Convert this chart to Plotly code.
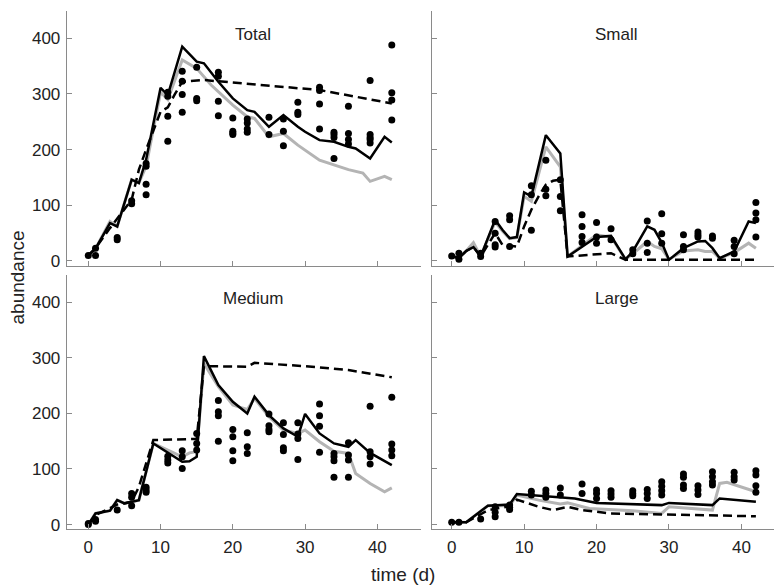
import plotly.graph_objects as go

# ---------------- data ----------------
obs_days = [0, 1, 4, 6, 8, 11, 13, 15, 18, 20, 22, 25, 27, 29, 32, 34, 36, 39, 42]

total_obs = [[10], [23, 10], [42, 38], [108, 103], [175, 170, 138, 119],
             [303, 296, 260, 215], [341, 323, 299, 267], [348, 292, 288],
             [339, 332, 287, 261], [257, 233, 230, 227], [255, 248, 237, 231],
             [258, 227], [255, 233, 207], [285, 267, 263], [312, 306, 282, 237],
             [231, 227, 222, 184], [278, 229, 218, 210], [324, 227, 222, 218, 212],
             [388, 302, 289, 253]]
small_obs = [[9], [14, 3], [14, 8], [71, 50, 29, 25], [81, 74, 26], [135, 119, 55],
             [181, 129, 117], [146, 116, 90], [83, 62, 44, 33], [69, 43, 32], [58, 38],
             [20, 13], [72, 32, 15], [85, 49, 32], [47, 26, 20], [52, 47, 43], [45, 41],
             [37, 26, 13], [105, 86, 74, 43]]
medium_obs = [[2, 0], [9, 6], [26], [56, 49, 34], [67, 62, 58], [123, 116, 111],
              [133, 122, 101], [164, 146, 134], [223, 203, 196, 150], [171, 158, 133, 115],
              [165, 140, 128], [199, 178, 171, 167], [183, 162, 138, 133], [183, 163, 155, 117],
              [217, 196, 177, 130], [128, 122, 115, 85], [147, 125, 116, 85],
              [213, 131, 122, 109], [229, 145, 134, 124]]
large_obs = [[4], [4], [10], [32, 22, 14], [35, 31, 27], [60, 53], [62, 56, 49], [66, 53],
             [73, 56], [62, 56, 47], [61, 55, 49], [61, 56, 52], [63, 56, 47],
             [77, 69, 61, 53], [91, 85, 71, 65], [70, 62, 54], [95, 86, 77, 71],
             [94, 86, 80], [97, 89, 70, 58]]

# model lines
total_black_x = [0, 1, 3, 4, 6, 7, 8, 10, 11, 13, 15, 16, 18, 20, 22, 23, 25, 27, 29, 30, 32, 34, 36, 37, 39, 41, 42]
total_black_y = [10, 22, 68, 62, 146, 140, 182, 311, 298, 385, 358, 355, 322, 292, 271, 268, 241, 262, 241, 232, 217, 214, 205, 202, 184, 223, 213]
total_gray_x = [0, 1, 3, 4, 6, 7, 8, 10, 11, 13, 15, 17, 20, 22, 23, 25, 27, 29, 32, 34, 36, 38, 39, 41, 42]
total_gray_y = [10, 22, 71, 62, 146, 140, 170, 303, 290, 361, 346, 316, 280, 259, 256, 223, 229, 208, 181, 172, 164, 158, 143, 152, 146]
total_dash_x = [0, 1, 3, 6, 7, 8, 10, 11, 12, 13, 16, 32, 42]
total_dash_y = [10, 23, 59, 110, 164, 200, 268, 276, 300, 322, 325, 307, 283]

small_black_x = [0, 1, 2, 3, 4, 6, 7, 8, 9, 10, 11, 13, 15, 16, 20, 22, 24, 25, 27, 28, 29, 30, 32, 34, 35, 36, 37, 39, 41, 42]
small_black_y = [9, 5, 18, 25, 8, 74, 56, 41, 43, 123, 116, 226, 193, 8, 43, 45, 3, 17, 62, 56, 33, 2, 23, 35, 36, 23, 5, 17, 71, 68]
small_gray_x = [0, 1, 2, 3, 4, 6, 7, 8, 9, 10, 11, 13, 15, 16, 20, 22, 24, 25, 27, 28, 29, 30, 32, 34, 35, 36, 37, 39, 41, 42]
small_gray_y = [9, 5, 18, 33, 8, 70, 54, 40, 42, 116, 107, 205, 169, 8, 47, 43, 3, 13, 35, 26, 22, 3, 18, 20, 17, 17, 5, 15, 32, 23]
small_dash_x = [0, 1, 2, 3, 4, 6, 7, 9, 10, 11, 12, 13, 14, 15, 16, 22, 24, 42]
small_dash_y = [9, 5, 18, 25, 8, 50, 29, 26, 62, 92, 116, 137, 144, 146, 8, 14, 2, 2]

medium_black_x = [0, 1, 3, 4, 5, 7, 9, 10, 13, 14, 15, 16, 18, 20, 22, 23, 25, 27, 29, 30, 32, 34, 36, 37, 39, 42]
medium_black_y = [0, 20, 25, 44, 38, 44, 146, 138, 113, 114, 122, 303, 251, 221, 200, 230, 197, 173, 158, 199, 164, 146, 140, 152, 129, 107]
medium_gray_x = [0, 1, 3, 4, 5, 7, 9, 10, 13, 14, 15, 16, 18, 20, 22, 23, 25, 27, 29, 30, 32, 34, 36, 37, 39, 41, 42]
medium_gray_y = [0, 20, 25, 44, 38, 44, 146, 140, 122, 129, 131, 290, 248, 215, 207, 227, 194, 170, 164, 170, 149, 132, 128, 92, 74, 59, 66]
medium_dash_x = [0, 1, 4, 6, 7, 9, 15, 16, 22, 23, 30, 36, 42]
medium_dash_y = [0, 17, 36, 41, 68, 152, 154, 285, 284, 291, 285, 278, 265]

large_black_x = [0, 2, 5, 8, 9, 15, 17, 20, 25, 29, 30, 36, 37, 42]
large_black_y = [4, 4, 34, 36, 55, 50, 47, 39, 37, 35, 39, 35, 47, 41]
large_gray_x = [0, 2, 5, 8, 9, 12, 15, 16, 19, 25, 29, 30, 36, 37, 38, 42]
large_gray_y = [4, 4, 34, 34, 53, 44, 37, 39, 29, 25, 20, 32, 26, 74, 76, 59]
large_dash_x = [0, 2, 5, 8, 9, 12, 14, 16, 18, 22, 42]
large_dash_y = [4, 4, 26, 33, 45, 32, 26, 32, 26, 20, 15]

panel_titles = ["Total", "Small", "Medium", "Large"]
x_ticks = [0, 10, 20, 30, 40]
y_ticks = [0, 100, 200, 300, 400]

panels = [
    (total_obs, total_black_x, total_black_y, total_gray_x, total_gray_y, total_dash_x, total_dash_y),
    (small_obs, small_black_x, small_black_y, small_gray_x, small_gray_y, small_dash_x, small_dash_y),
    (medium_obs, medium_black_x, medium_black_y, medium_gray_x, medium_gray_y, medium_dash_x, medium_dash_y),
    (large_obs, large_black_x, large_black_y, large_gray_x, large_gray_y, large_dash_x, large_dash_y),
]

# ---------------- layout ----------------
W, H = 774, 587
x_domains = [[66.7 / W, 420.7 / W], [431.7 / W, 1.0]]
y_domains = [[1 - 265.7 / H, 1 - 11 / H], [1 - 529.3 / H, 1 - 275 / H]]
x_ranges = [[-2.99, 46.0], [-2.76, 44.5]]
y_range = [-8.5, 449]

FONT = "Liberation Sans, Arial, sans-serif"
AX_COLOR = "#8a8a8a"

fig = go.Figure()
layout = dict(
    width=W, height=H,
    template="none",
    margin=dict(l=0, r=0, t=0, b=0, pad=0),
    paper_bgcolor="white", plot_bgcolor="white",
    showlegend=False,
    hovermode=False,
    font=dict(family=FONT, size=16, color="#222"),
)

for i, (obs, bx, by, gx, gy, dx, dy) in enumerate(panels):
    row, col = divmod(i, 2)
    n = i + 1
    xa = "x" if n == 1 else f"x{n}"
    ya = "y" if n == 1 else f"y{n}"
    ox = [d for d, vals in zip(obs_days, obs) for _ in vals]
    oy = [v for vals in obs for v in vals]
    fig.add_trace(go.Scatter(x=gx, y=gy, mode="lines", line=dict(color="#b4b4b4", width=3),
                             xaxis=xa, yaxis=ya))
    fig.add_trace(go.Scatter(x=dx, y=dy, mode="lines", line=dict(color="black", width=2.5, dash="9px,5px"),
                             xaxis=xa, yaxis=ya))
    fig.add_trace(go.Scatter(x=bx, y=by, mode="lines", line=dict(color="black", width=2.5),
                             xaxis=xa, yaxis=ya))
    fig.add_trace(go.Scatter(x=ox, y=oy, mode="markers", marker=dict(color="black", size=7, line=dict(width=0)),
                             xaxis=xa, yaxis=ya))
    xkey = "xaxis" if n == 1 else f"xaxis{n}"
    ykey = "yaxis" if n == 1 else f"yaxis{n}"
    layout[xkey] = dict(
        domain=x_domains[col], range=x_ranges[col], anchor=ya, automargin=False,
        showgrid=False, zeroline=False, showline=True, linecolor=AX_COLOR, linewidth=1,
        ticks="inside", ticklen=5, tickcolor=AX_COLOR, tickvals=x_ticks,
        showticklabels=(row == 1), tickfont=dict(size=17, color="#222"),
        ticklabelstandoff=2,
    )
    layout[ykey] = dict(
        domain=y_domains[row], range=y_range, anchor=xa, automargin=False,
        showgrid=False, zeroline=False, showline=True, linecolor=AX_COLOR, linewidth=1,
        ticks="inside", ticklen=5, tickcolor=AX_COLOR, tickvals=y_ticks,
        showticklabels=(col == 0), tickfont=dict(size=17, color="#222"),
        ticklabelstandoff=2,
    )
    fig.add_annotation(x=22.8, y=407, xref=xa, yref=ya, text=panel_titles[i], showarrow=False,
                       font=dict(size=17, color="#222"), xanchor="center", yanchor="middle")

fig.update_layout(**layout)
fig.add_annotation(x=17 / W, y=1 - 277.5 / H, xref="paper", yref="paper", text="abundance",
                   textangle=-90, showarrow=False, font=dict(size=19, color="#222"),
                   xanchor="center", yanchor="middle")
fig.add_annotation(x=403 / W, y=1 - 574 / H, xref="paper", yref="paper", text="time (d)",
                   showarrow=False, font=dict(size=19, color="#222"),
                   xanchor="center", yanchor="middle")

fig.write_html("out.html",
               config={"displayModeBar": False, "staticPlot": True},
               post_script="document.body.style.margin='0px';document.body.style.overflow='hidden';")
